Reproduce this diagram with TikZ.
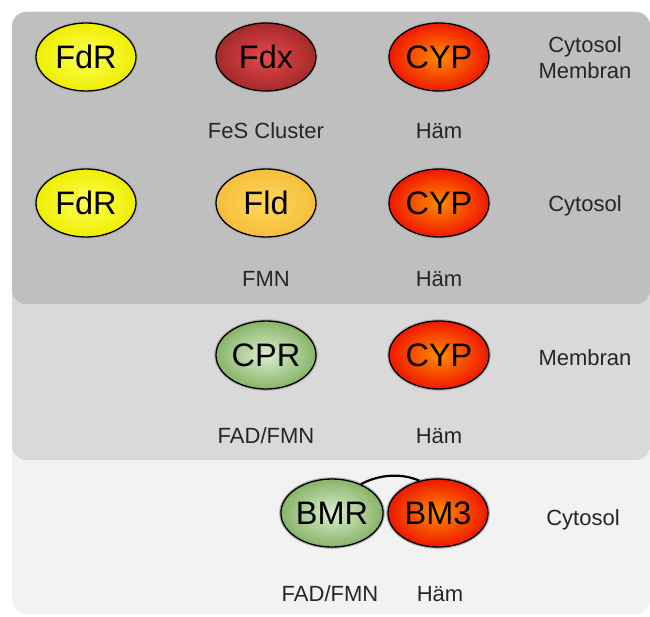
\documentclass[tikz,border=0pt]{standalone}
\usepackage{fontspec}
\setmainfont{Liberation Sans}
\usetikzlibrary{shapes.geometric}
\definecolor{panelA}{HTML}{BFBFBF}
\definecolor{panelB}{HTML}{D9D9D9}
\definecolor{panelC}{HTML}{F2F2F2}
\definecolor{yelIn}{HTML}{FFFF5A}
\definecolor{yelOut}{HTML}{EEEE00}
\definecolor{fdxIn}{HTML}{E8474C}
\definecolor{fdxOut}{HTML}{A52A2A}
\definecolor{cypIn}{HTML}{FF8C00}
\definecolor{cypOut}{HTML}{F01800}
\definecolor{fldIn}{HTML}{FFD85A}
\definecolor{fldOut}{HTML}{F5BE3C}
\definecolor{grnIn}{HTML}{DCEED0}
\definecolor{grnOut}{HTML}{88B468}
\begin{document}
\begin{tikzpicture}[x=1pt,y=-1pt,
  prot/.style={ellipse, draw=black, line width=1.3pt, minimum width=100pt,
    minimum height=68pt, inner sep=0pt, font=\fontsize{32.5}{36}\selectfont,
    preaction={draw=black!30, line width=3.6pt}},
  yelp/.style={prot, inner color=yelIn, outer color=yelOut},
  fdxp/.style={prot, inner color=fdxIn, outer color=fdxOut},
  cypp/.style={prot, inner color=cypIn, outer color=cypOut},
  fldp/.style={prot, inner color=fldIn, outer color=fldOut},
  grnp/.style={prot, inner color=grnIn, outer color=grnOut},
  lab/.style={font=\fontsize{22}{25}\selectfont, anchor=base, inner sep=0pt, text=black!85},
  panel/.style={rounded corners=14pt}
]
\useasboundingbox (0,0) rectangle (650,617);
% panels
\fill[panel, panelC] (12,12) rectangle (650,614);
\fill[panel, panelB] (12,12) rectangle (650,460);
\fill[panel, panelA] (12,12) rectangle (650,304);

% row 1
\node[yelp] (fdr1) at (86,57) {FdR};
\node[fdxp] (fdx) at (266,57) {Fdx};
\node[cypp] (cyp1) at (439,57) {CYP};
\node[lab] (cyt1) at (585,53) {Cytosol};
\node[lab] (mem1) at (585,79) {Membran};
\node[lab] (fes) at (266,139) {FeS Cluster};
\node[lab] (ham1) at (439,139) {Häm};

% row 2
\node[yelp] (fdr2) at (86,203) {FdR};
\node[fldp] (fld) at (266,203) {Fld};
\node[cypp] (cyp2) at (439,203) {CYP};
\node[lab] (cyt2) at (585,212) {Cytosol};
\node[lab] (fmn) at (266,287) {FMN};
\node[lab] (ham2) at (439,287) {Häm};

% row 3
\node[grnp] (cpr) at (266,355) {CPR};
\node[cypp] (cyp3) at (439,355) {CYP};
\node[lab] (mem3) at (585,365) {Membran};
\node[lab] (fad3) at (266,443) {FAD/FMN};
\node[lab] (ham3) at (439,443) {Häm};

% row 4
\node[grnp] (bmr) at (332,513) {BMR};
\node[cypp] (bm3) at (438,513) {BM3};
\draw[line width=2.2pt] (bmr.45) .. controls (380,474) and (402,473) .. (bm3.120);
\node[lab] (cyt4) at (583,525) {Cytosol};
\node[lab] (fad4) at (330,601) {FAD/FMN};
\node[lab] (ham4) at (440,601) {Häm};
\end{tikzpicture}
\end{document}
